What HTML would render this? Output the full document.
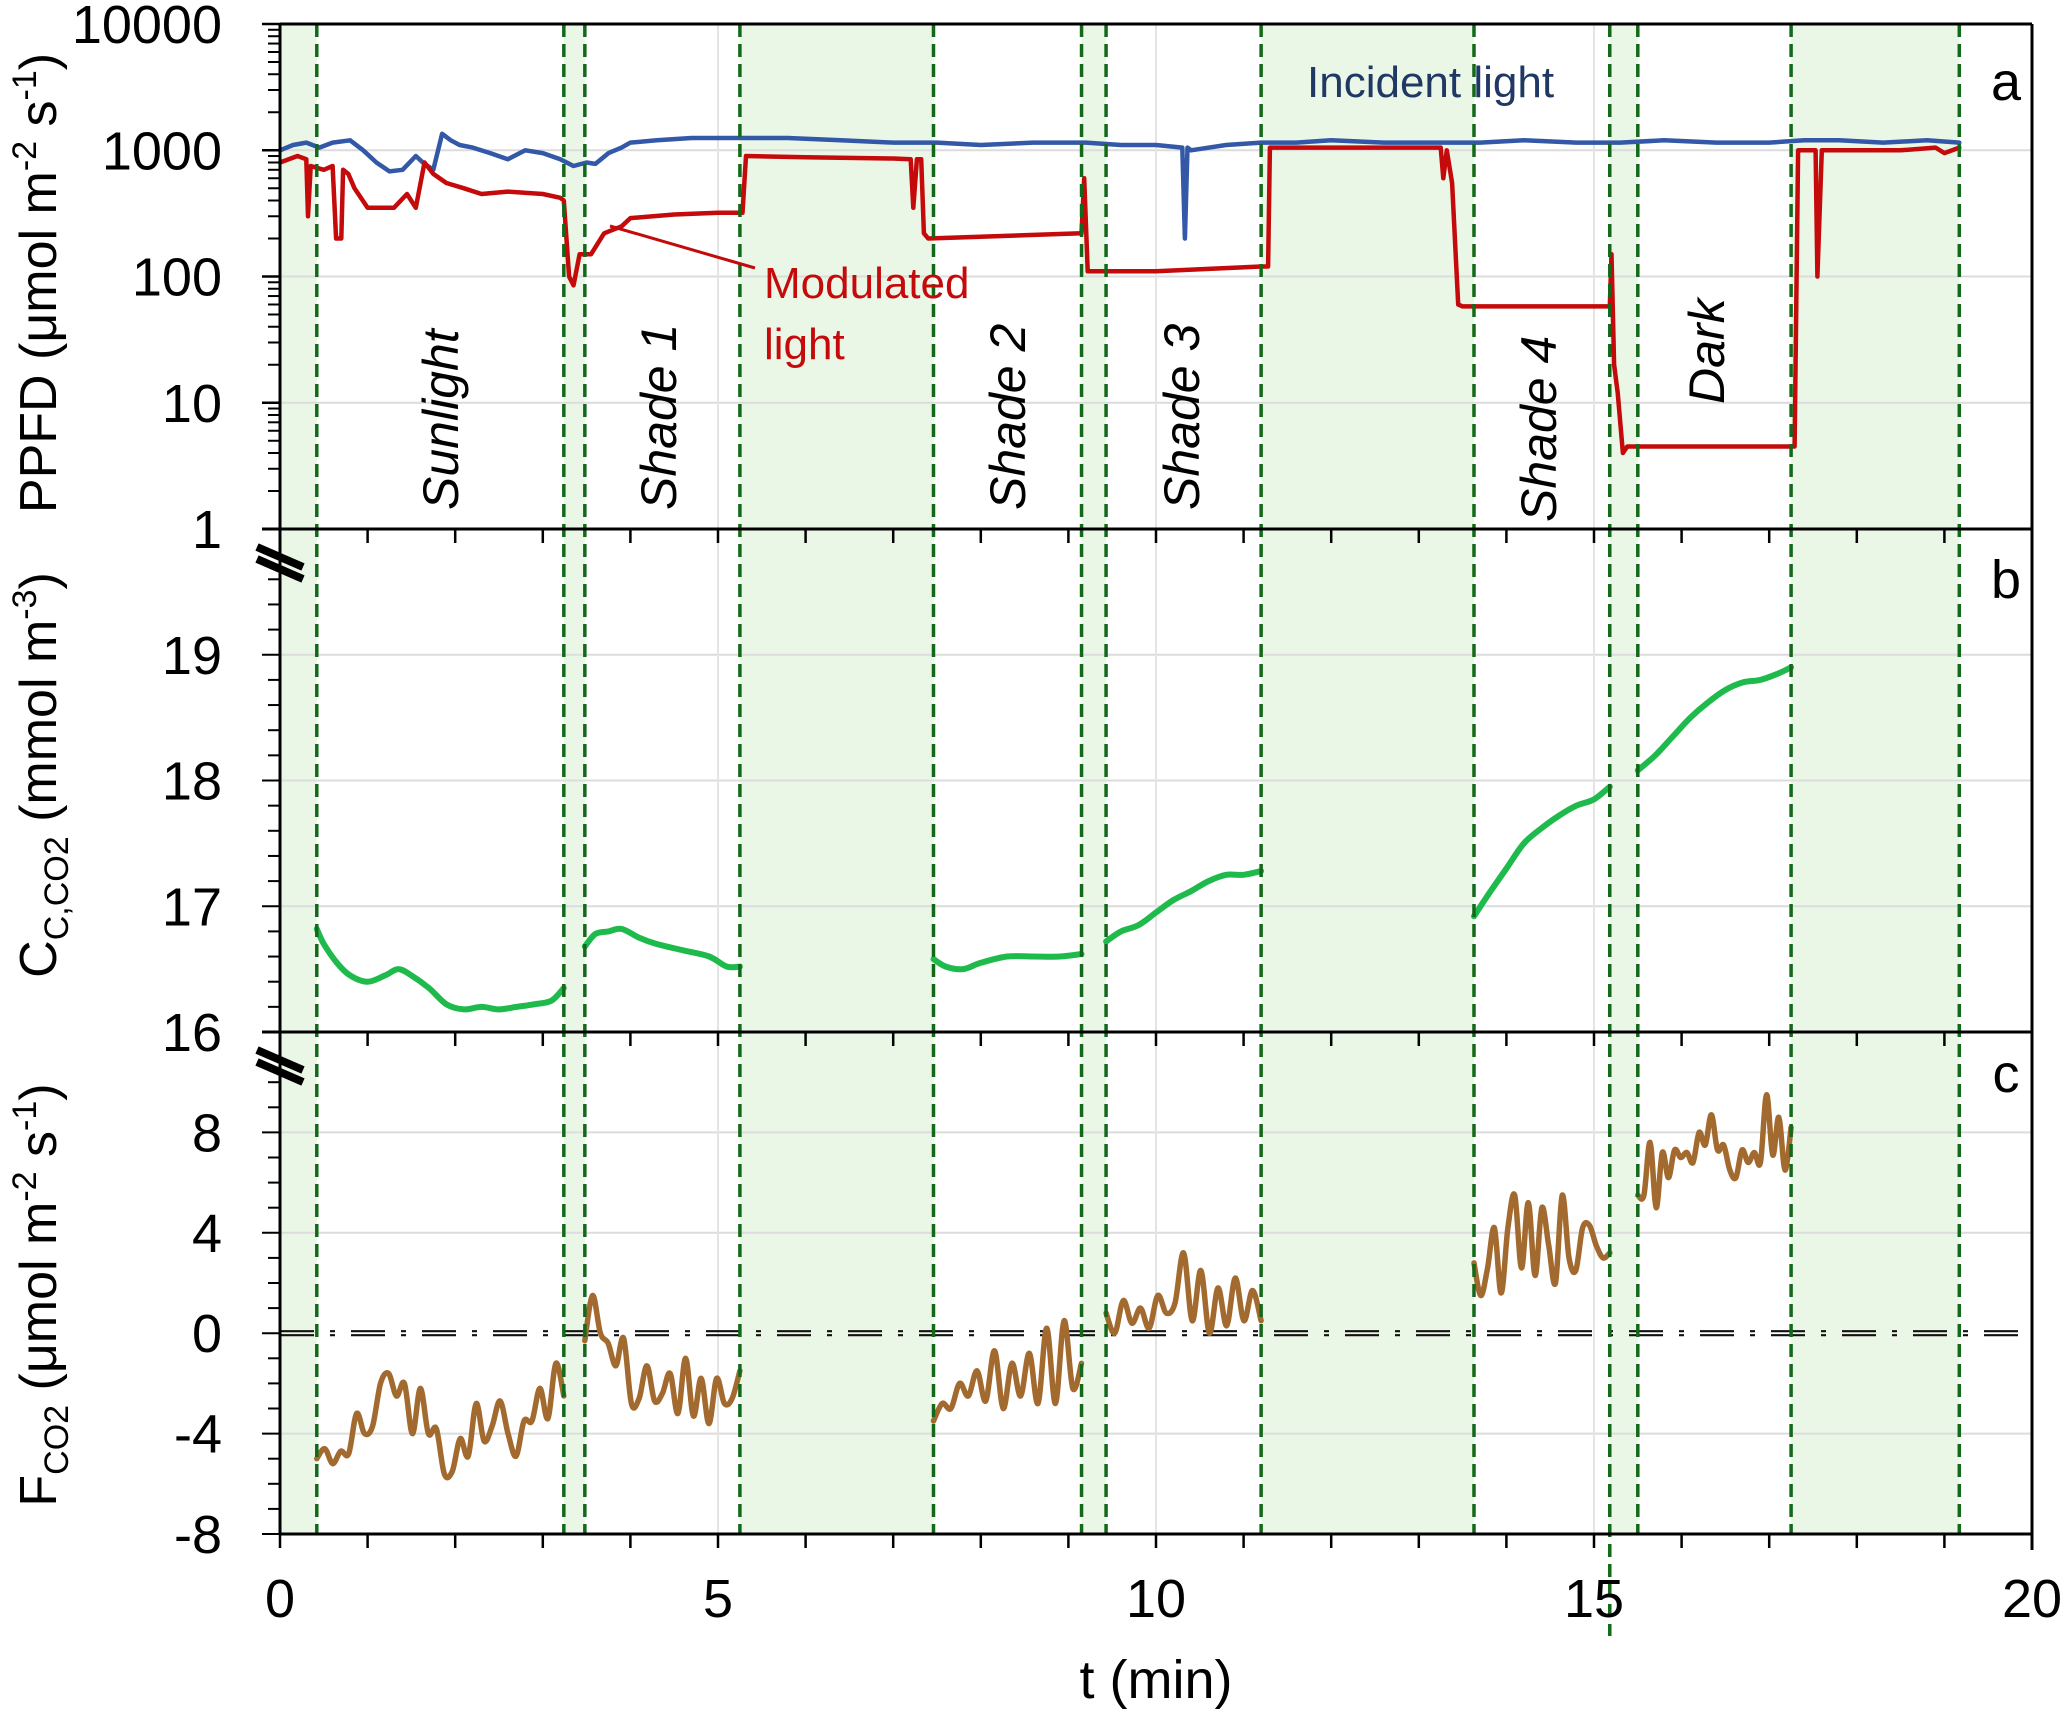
<!DOCTYPE html>
<html><head><meta charset="utf-8"><style>
body{margin:0;background:#fff}
svg{display:block;font-family:"Liberation Sans",sans-serif}
</style></head><body>
<svg id="chart" width="2067" height="1714" viewBox="0 0 2067 1714" xmlns="http://www.w3.org/2000/svg">
<g id="bands"></g><g id="grid"></g><g id="series"></g><g id="vlines"></g><g id="axes"></g><g id="labels"></g>
</svg>
<script>
// ---- data ----
const phaseBoundaries = [0.42,3.24,3.48,5.25,7.46,9.15,9.43,11.2,13.63,15.18,15.5,17.25,19.17];
const shadedBands = [[0,0.42],[3.24,3.48],[5.25,7.46],[9.15,9.43],[11.2,13.63],[15.18,15.5],[17.25,19.17]];
const xTicks = [0,5,10,15,20];
const ppfdTicks = [1,10,100,1000,10000];
const ccTicks = [16,17,18,19];
const fTicks = [-8,-4,0,4,8];
const incidentT = [0,0.15,0.3,0.45,0.6,0.8,0.95,1.1,1.25,1.4,1.55,1.65,1.75,1.85,1.95,2.05,2.2,2.4,2.6,2.8,3.0,3.2,3.35,3.5,3.6,3.75,3.9,4.0,4.3,4.7,5.2,5.8,6.4,7.0,7.5,8.0,8.6,9.2,9.6,10.0,10.3,10.33,10.36,10.4,10.8,11.2,11.6,12.0,12.6,13.2,13.7,14.2,14.8,15.3,15.8,16.4,17.0,17.4,17.8,18.3,18.8,19.17];
const incidentV = [1000,1100,1150,1050,1150,1200,1000,800,680,700,900,780,700,1350,1200,1100,1050,950,850,1000,950,850,750,800,780,950,1050,1150,1200,1250,1250,1250,1200,1150,1150,1100,1150,1150,1100,1100,1050,200,1050,1000,1100,1150,1150,1200,1150,1150,1150,1200,1150,1150,1200,1150,1150,1200,1200,1150,1200,1150];
const modT = [0,0.2,0.3,0.32,0.35,0.5,0.6,0.64,0.66,0.7,0.72,0.78,0.85,1.0,1.3,1.45,1.55,1.65,1.75,1.9,2.1,2.3,2.6,3.0,3.2,3.24,3.3,3.35,3.42,3.55,3.7,3.9,4.0,4.5,5.0,5.28,5.32,6.0,7.0,7.2,7.23,7.27,7.32,7.35,7.4,9.15,9.18,9.22,9.27,10.0,11.2,11.28,11.3,12.0,13.25,13.28,13.32,13.38,13.45,13.5,14.5,15.18,15.2,15.23,15.27,15.33,15.38,15.45,16.5,17.25,17.29,17.33,17.5,17.53,17.55,17.6,18.5,18.9,19.0,19.17];
const modV = [800,900,850,300,750,700,750,200,200,200,700,650,500,350,350,450,350,800,650,550,500,450,470,450,420,400,100,85,150,150,220,250,290,310,320,320,900,880,860,850,350,850,850,220,200,220,600,110,110,110,120,120,1050,1050,1050,600,1000,550,60,58,58,58,150,20,12,4,4.5,4.5,4.5,4.5,4.5,1000,1000,1000,100,1000,1000,1050,950,1050];
const ccSegments = [
 {t:[0.42,0.5,0.65,0.8,1.0,1.2,1.35,1.5,1.7,1.9,2.1,2.3,2.5,2.7,2.9,3.1,3.24], v:[16.82,16.7,16.55,16.45,16.4,16.45,16.5,16.45,16.35,16.22,16.18,16.2,16.18,16.2,16.22,16.25,16.35]},
 {t:[3.48,3.6,3.75,3.9,4.1,4.3,4.6,4.9,5.1,5.25], v:[16.68,16.78,16.8,16.82,16.75,16.7,16.65,16.6,16.52,16.52]},
 {t:[7.46,7.6,7.8,8.0,8.3,8.6,8.9,9.15], v:[16.58,16.52,16.5,16.55,16.6,16.6,16.6,16.62]},
 {t:[9.43,9.6,9.8,10.0,10.2,10.4,10.6,10.8,11.0,11.2], v:[16.72,16.8,16.85,16.95,17.05,17.12,17.2,17.25,17.25,17.28]},
 {t:[13.63,13.8,14.0,14.2,14.4,14.6,14.8,15.0,15.18], v:[16.92,17.1,17.3,17.5,17.62,17.72,17.8,17.85,17.95]},
 {t:[15.5,15.7,15.9,16.1,16.3,16.5,16.7,16.9,17.1,17.25], v:[18.08,18.2,18.35,18.5,18.62,18.72,18.78,18.8,18.85,18.9]}
];
const fSegStart = [0.42,3.48,7.46,9.43,13.63,15.5];
const fSegEnd = [3.24,5.25,9.15,11.2,15.18,17.25];
const fSeg1 = [-5.0,-4.6,-5.2,-4.7,-4.8,-3.2,-4.0,-3.7,-2.0,-1.6,-2.5,-2.0,-4.0,-2.2,-4.0,-3.8,-5.6,-5.5,-4.2,-4.9,-2.8,-4.3,-3.7,-2.7,-4.0,-4.9,-3.5,-3.5,-2.2,-3.4,-1.2,-2.5];
const fSeg2 = [-0.3,1.5,0.0,-0.4,-1.3,-0.2,-2.8,-2.6,-1.3,-2.7,-2.4,-1.6,-3.2,-1.0,-3.3,-1.8,-3.6,-1.8,-2.8,-2.6,-1.5];
const fSeg3 = [-3.5,-2.8,-3.0,-2.0,-2.5,-1.5,-2.7,-0.7,-3.0,-1.2,-2.5,-0.8,-2.8,0.2,-2.8,0.5,-2.2,-1.2];
const fSeg4 = [0.8,0.0,1.3,0.4,1.0,0.2,1.5,0.8,1.2,3.2,0.5,2.5,0.0,1.8,0.3,2.2,0.5,1.7,0.5];
const fSeg5 = [2.8,1.5,2.6,4.2,1.6,4.2,5.5,2.6,5.2,2.3,5.0,3.5,2.0,5.5,3.0,2.5,4.2,4.3,3.5,3.0,3.2];
const fSeg6 = [5.5,5.5,7.6,5.0,7.2,6.2,7.3,7.0,7.2,6.8,8.0,7.5,8.7,7.3,7.5,6.5,6.2,7.3,6.8,7.2,6.8,9.5,7.1,8.6,6.5,8.2];
const fSegs = [fSeg1,fSeg2,fSeg3,fSeg4,fSeg5,fSeg6];

// ---- axes ----
const X0=280, PX=87.6, RIGHT=2032;
const TOP=24, AB=529, BB=1032, CB=1534;
const xs = t => X0 + t*PX;
const ya = v => TOP + (4 - Math.log10(v))*((AB-TOP)/4);
const yb = v => AB + (20 - v)*((BB-AB)/4);
const yc = v => BB + (12 - v)*((CB-BB)/20);
const NS='http://www.w3.org/2000/svg';
function mk(parent, tag, attrs){const e=document.createElementNS(NS,tag);for(const k in attrs)e.setAttribute(k,attrs[k]);document.getElementById(parent).appendChild(e);return e;}

shadedBands.forEach((b,i)=>{
  const r=mk('bands','rect',{x:xs(b[0]),y:TOP,width:xs(b[1])-xs(b[0]),height:CB-TOP,fill:'#ebf7e6'});
  
  
});
function hgrid(y){const l=mk('grid','line',{x1:X0,x2:RIGHT,y1:y,y2:y,stroke:'#dcdcdc','stroke-width':2});}
ppfdTicks.slice(1,4).forEach(v=>hgrid(ya(v)));
ccTicks.slice(1).forEach(v=>hgrid(yb(v)));
fTicks.slice(1).forEach(v=>{ if(v!==0) hgrid(yc(v));});
xTicks.slice(1,4).forEach(t=>{const l=mk('grid','line',{x1:xs(t),x2:xs(t),y1:TOP,y2:CB,stroke:'#e4e4e4','stroke-width':2});});
[0,4].forEach(d=>{const l=mk('grid','line',{x1:X0,x2:RIGHT,y1:yc(0)-2+d,y2:yc(0)-2+d,stroke:'#111','stroke-width':2.2,'stroke-dasharray':'34 16 5 16'});});

function path(ts,vs,sc,color,w,name,smooth){
  const P=ts.map((t,i)=>[xs(t),sc(vs[i])]);
  let d='M'+P[0][0].toFixed(1)+' '+P[0][1].toFixed(1);
  for(let i=1;i<P.length;i++){
    if(smooth){
      const p0=P[Math.max(0,i-2)],p1=P[i-1],p2=P[i],p3=P[Math.min(P.length-1,i+1)];
      const c1x=p1[0]+(p2[0]-p0[0])/6,c1y=p1[1]+(p2[1]-p0[1])/6,c2x=p2[0]-(p3[0]-p1[0])/6,c2y=p2[1]-(p3[1]-p1[1])/6;
      d+='C'+c1x.toFixed(1)+' '+c1y.toFixed(1)+' '+c2x.toFixed(1)+' '+c2y.toFixed(1)+' '+p2[0].toFixed(1)+' '+p2[1].toFixed(1);
    } else d+='L'+P[i][0].toFixed(1)+' '+P[i][1].toFixed(1);
  }
  const p=mk('series','path',{d:d,fill:'none',stroke:color,'stroke-width':w,'stroke-linejoin':'round','stroke-linecap':'round'});
  
  
}
path(incidentT,incidentV,ya,'#3358a8',4.5,'incident-light-line',false);
path(modT,modV,ya,'#c40a0a',4.5,'modulated-light-line',false);
ccSegments.forEach(s=>path(s.t,s.v,yb,'#1fba4c',6,'cc-co2-line',true));
fSegs.forEach((seg,i)=>{
  const ts=seg.map((v,j)=>fSegStart[i]+(fSegEnd[i]-fSegStart[i])*j/(seg.length-1));
  path(ts,seg,yc,'#a36a30',5.5,'f-co2-line',true);
});

phaseBoundaries.forEach(t=>{
  const l=mk('vlines','line',{x1:xs(t),x2:xs(t),y1:TOP,y2:(t===15.18?1636:CB),stroke:'#13691a','stroke-width':3.5,'stroke-dasharray':'13 7'});
  
  
});

function ln(x1,y1,x2,y2,w,name){const l=mk('axes','line',{x1:x1,y1:y1,x2:x2,y2:y2,stroke:'#000','stroke-width':w});}
ln(X0,TOP,RIGHT,TOP,3,'frame-top');
ln(X0,TOP,X0,CB,3,'y-axis');
ln(RIGHT,TOP,RIGHT,CB+16,3,'frame-right');
ln(262,AB,RIGHT,AB,3,'panel-a-bottom');
ln(262,BB,RIGHT,BB,3,'panel-b-bottom');
ln(X0,CB,RIGHT,CB,3,'x-axis');
for(let t=0;t<=20;t++){[AB,BB,CB].forEach(y=>ln(xs(t),y,xs(t),y+14,2.5,'x-tick'));}
for(let d=0;d<4;d++)for(let m=2;m<=9;m++){const y=ya(m*Math.pow(10,d));ln(X0-12,y,X0,y,2,'y-minor-tick');}
ppfdTicks.forEach(v=>ln(X0-18,ya(v),X0,ya(v),2.5,'y-tick'));
for(let v=16;v<=20;v+=0.2){ln(X0-(Math.abs(v-Math.round(v))<0.01?18:12),yb(v),X0,yb(v),2,'y-tick');}
for(let v=-8;v<=12;v+=1){ln(X0-(v%4===0?18:12),yc(v),X0,yc(v),2,'y-tick');}
[AB+32,BB+32].forEach(y=>{[0,12].forEach(o=>{const l=mk('axes','line',{x1:257,y1:y-14+o,x2:303,y2:y+6+o,stroke:'#000','stroke-width':8});});});

function txt(x,y,s,attrs,name){const e=mk('labels','text',Object.assign({x:x,y:y},attrs));e.textContent=s;return e;}
ppfdTicks.forEach(v=>txt(222,ya(v)+19,String(v),{'font-size':54,'text-anchor':'end'},'y-tick-label'));
ccTicks.forEach(v=>txt(222,yb(v)+19,String(v),{'font-size':54,'text-anchor':'end'},'y-tick-label'));
fTicks.forEach(v=>txt(222,yc(v)+19,String(v),{'font-size':54,'text-anchor':'end'},'y-tick-label'));
xTicks.forEach(t=>txt(xs(t),1617,String(t),{'font-size':54,'text-anchor':'middle'},'x-tick-label'));
</script>
<script>
const L=document.getElementById('labels');
L.insertAdjacentHTML('beforeend',`
<text x="1156" y="1698" font-size="54" text-anchor="middle">t (min)</text>
<text transform="translate(56,283) rotate(-90)" font-size="52" text-anchor="middle">PPFD (μmol m<tspan font-size="34" dy="-20">-2</tspan><tspan dy="20"> s</tspan><tspan font-size="34" dy="-20">-1</tspan><tspan dy="20">)</tspan></text>
<text transform="translate(56,775) rotate(-90)" font-size="52" text-anchor="middle">C<tspan font-size="34" dy="12">C,CO2</tspan><tspan dy="-12"> (mmol m</tspan><tspan font-size="34" dy="-20">-3</tspan><tspan dy="20">)</tspan></text>
<text transform="translate(56,1295) rotate(-90)" font-size="52" text-anchor="middle">F<tspan font-size="34" dy="12">CO2</tspan><tspan dy="-12"> (μmol m</tspan><tspan font-size="34" dy="-20">-2</tspan><tspan dy="20"> s</tspan><tspan font-size="34" dy="-20">-1</tspan><tspan dy="20">)</tspan></text>
<text x="2006" y="100" font-size="54" text-anchor="middle">a</text>
<text x="2006" y="598" font-size="54" text-anchor="middle">b</text>
<text x="2006" y="1092" font-size="54" text-anchor="middle">c</text>
<text x="1307" y="97" font-size="44" fill="#1f3864">Incident light</text>
<line x1="610" y1="226" x2="755" y2="268" stroke="#c40a0a" stroke-width="3"/>
<text x="764" y="298" font-size="44" fill="#c40a0a">Modulated</text>
<text x="764" y="359" font-size="44" fill="#c40a0a">light</text>
<g font-size="50" font-style="italic">
<text transform="translate(458,510) rotate(-90)">Sunlight</text>
<text transform="translate(676,510) rotate(-90)">Shade 1</text>
<text transform="translate(1025,510) rotate(-90)">Shade 2</text>
<text transform="translate(1199,510) rotate(-90)">Shade 3</text>
<text transform="translate(1556,522) rotate(-90)">Shade 4</text>
<text transform="translate(1724,404) rotate(-90)">Dark</text>
</g>`);
</script>
</body></html>
